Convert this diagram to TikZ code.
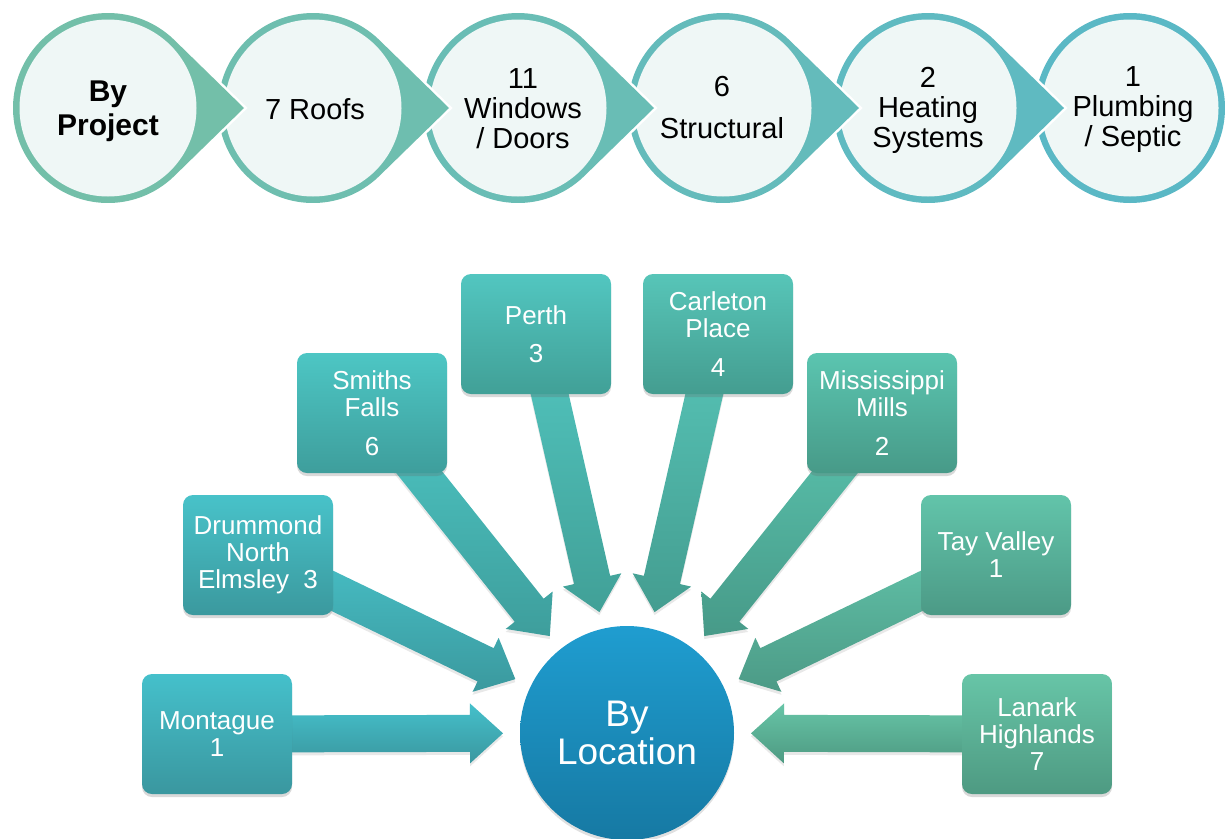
\documentclass[tikz,border=0pt]{standalone}
\usepackage{fontspec}
\setmainfont{Liberation Sans}
\usetikzlibrary{calc,shadows}
\definecolor{ringA}{HTML}{73BFA9}
\definecolor{ringB}{HTML}{6EBEAF}
\definecolor{ringC}{HTML}{69BDB5}
\definecolor{ringD}{HTML}{64BBBB}
\definecolor{ringE}{HTML}{5FBAC1}
\definecolor{ringF}{HTML}{5AB8C5}
\definecolor{projin}{HTML}{EFF7F6}
\definecolor{locTop}{HTML}{1F9DD0}
\definecolor{locBot}{HTML}{1679A3}
\definecolor{montT}{HTML}{45C0CB}\definecolor{montB}{HTML}{3A979F}
\definecolor{drumT}{HTML}{48C2C9}\definecolor{drumB}{HTML}{3B999E}
\definecolor{smitT}{HTML}{4DC6C4}\definecolor{smitB}{HTML}{3E9E9C}
\definecolor{pertT}{HTML}{52C6C0}\definecolor{pertB}{HTML}{41A097}
\definecolor{carlT}{HTML}{57C5B8}\definecolor{carlB}{HTML}{449D90}
\definecolor{missT}{HTML}{5BC5B0}\definecolor{missB}{HTML}{479A88}
\definecolor{tayvT}{HTML}{62C4AA}\definecolor{tayvB}{HTML}{4C9A86}
\definecolor{lanaT}{HTML}{67C5A7}\definecolor{lanaB}{HTML}{4E9A82}
\newcommand\projshape[2]{%
  \path[preaction={draw=white, line width=5pt}, fill=#2]
    (#1+136,108) -- ($(#1,108)+(46.27:95)$) arc[start angle=46.27, end angle=313.73, radius=95] -- cycle;
  \fill[projin] (#1,108) circle (88.5);}
\newcommand\blockarrow[3]{%
  \coordinate (#1-t) at ($(loc)!124pt!(#1)$);
  \coordinate (#1-h) at ($(#1-t)!33pt!(#1)$);
  \path[arrowshadow, top color=#2, bottom color=#3]
    (#1-t) -- ($(#1-h)!30pt!90:(#1)$) -- ($(#1-h)!18.5pt!90:(#1)$)
    -- ($(#1)!18.5pt!-90:(#1-t)$) -- ($(#1)!18.5pt!90:(#1-t)$)
    -- ($(#1-h)!18.5pt!-90:(#1)$) -- ($(#1-h)!30pt!-90:(#1)$) -- cycle;}
\begin{document}
\begin{tikzpicture}[x=1pt,y=-1pt,
  toptext/.style={align=center, font=\fontsize{29}{30}\selectfont, inner sep=0pt},
  locbox/.style={rectangle, rounded corners=10pt, minimum width=150pt, minimum height=120pt,
    text width=146pt, align=flush center, inner sep=2pt, text=white,
    font=\fontsize{26}{27}\selectfont,
    drop shadow={opacity=0.25, shadow xshift=0pt, shadow yshift=-3pt, fill=black!60}},
  arrowshadow/.style={drop shadow={opacity=0.15, shadow xshift=0pt, shadow yshift=-3pt, fill=black!60}}]
\useasboundingbox (0,0) rectangle (1225,838);
\clip (0,0) rectangle (1225,838);
% top row
\fill[ringF, preaction={draw=white, line width=5pt}] (1130,108) circle (95);
\fill[projin] (1130,108) circle (88.5);
\projshape{928}{ringE}
\projshape{723}{ringD}
\projshape{518}{ringC}
\projshape{313}{ringB}
\projshape{108}{ringA}
\node[toptext, font=\bfseries\fontsize{30}{34}\selectfont] (p1) at (108,111) {By\\Project};
\node[toptext] (p2) at (315,109) {7 Roofs};
\node[toptext] (p3) at (523,109) {11\\Windows\\/ Doors};
\node[toptext] (p4) at (722,108) {6\\[12pt]Structural};
\node[toptext] (p5) at (928,110) {2\\Heating\\Systems};
\node[toptext] (p6) at (1133,110) {1\\Plumbing\\/ Septic};
% central circle
\node[circle, minimum size=214pt, inner sep=0pt, top color=locTop, bottom color=locBot,
  text=white, align=center, font=\fontsize{37}{38}\selectfont,
  drop shadow={opacity=0.2, shadow xshift=0pt, shadow yshift=-3pt, fill=black!60}]
  (loc) at (627,733) {By\\Location};
% box positions (used by arrows)
\coordinate (mont) at (217,734);
\coordinate (drum) at (258,555);
\coordinate (smit) at (372,413);
\coordinate (pert) at (536,334);
\coordinate (carl) at (718,334);
\coordinate (miss) at (882,413);
\coordinate (tayv) at (996,555);
\coordinate (lana) at (1037,734);
\blockarrow{mont}{montT}{montB}
\blockarrow{drum}{drumT}{drumB}
\blockarrow{smit}{smitT}{smitB}
\blockarrow{pert}{pertT}{pertB}
\blockarrow{carl}{carlT}{carlB}
\blockarrow{miss}{missT}{missB}
\blockarrow{tayv}{tayvT}{tayvB}
\blockarrow{lana}{lanaT}{lanaB}
% boxes
\node[locbox, top color=montT, bottom color=montB] (bmont) at (mont) {Montague\\1};
\node[locbox, top color=drumT, bottom color=drumB] (bdrum) at (drum) {Drummond\\North\\Elmsley\ \ 3};
\node[locbox, top color=smitT, bottom color=smitB] (bsmit) at (smit) {Smiths\\Falls\\[12pt]6};
\node[locbox, top color=pertT, bottom color=pertB] (bpert) at (pert) {Perth\\[11pt]3};
\node[locbox, top color=carlT, bottom color=carlB] (bcarl) at (carl) {Carleton\\Place\\[12pt]4};
\node[locbox, top color=missT, bottom color=missB] (bmiss) at (miss) {Mississippi\\Mills\\[12pt]2};
\node[locbox, top color=tayvT, bottom color=tayvB] (btayv) at (tayv) {Tay Valley\\1};
\node[locbox, top color=lanaT, bottom color=lanaB] (blana) at (lana) {Lanark\\Highlands\\7};
\end{tikzpicture}
\end{document}
